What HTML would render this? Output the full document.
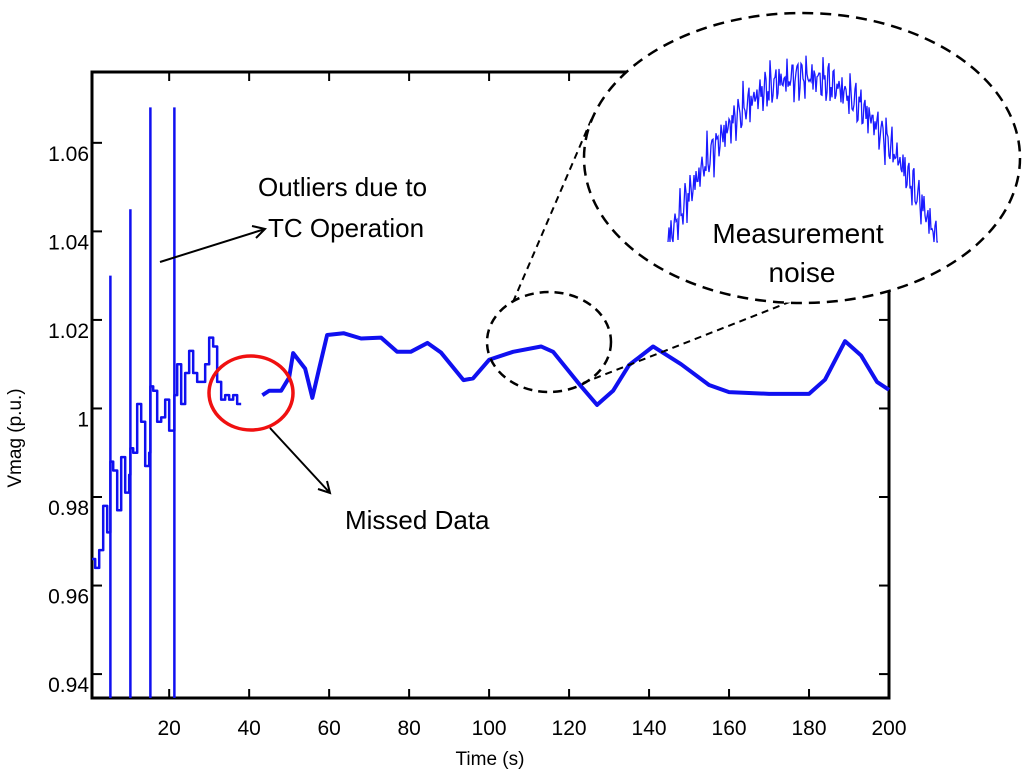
<!DOCTYPE html>
<html><head><meta charset="utf-8"><style>
body{margin:0;background:#fff}
svg{display:block;font-family:"Liberation Sans",sans-serif}
</style></head><body>
<svg id="chart" width="1024" height="777" viewBox="0 0 1024 777" xmlns="http://www.w3.org/2000/svg">
<g id="plot"></g>
</svg>
<script>
const xTicks=[20,40,60,80,100,120,140,160,180,200];
const yTicks=[0.94,0.96,0.98,1.00,1.02,1.04,1.06];
const yTickLabels=["0.94","0.96","0.98","1","1.02","1.04","1.06"];
const seg1T=[0.7,1.5,2.5,3.5,4.5,5.3,6,7,8,9,10,10.3,11,12,13,14,15,15.3,16,17,18,19,20,21.3,22,23,24,25,26,27,28,29,30,31,32,33,34,35,36,37,38];
const seg1V=[0.966,0.964,0.968,0.978,0.972,0.988,0.986,0.977,0.989,0.981,0.985,0.991,0.990,1.001,0.997,0.987,0.990,1.005,1.004,0.997,0.998,1.002,0.995,1.003,1.010,1.001,1.008,1.013,1.008,1.006,1.006,1.010,1.016,1.014,1.006,1.002,1.003,1.002,1.003,1.001,1.001];
const seg2T=[43.3,45,48,50,51,54,55.8,57.5,59.5,63.6,68,73,77,80.4,84.6,88,93.6,96,100,106,113,116,123,127,131,135,141,148,155,160,170,180,184,189,193,197,200];
const seg2V=[1.003,1.004,1.004,1.007,1.0125,1.009,1.0024,1.009,1.0166,1.017,1.0158,1.016,1.0128,1.0128,1.0148,1.0126,1.0064,1.0068,1.011,1.0128,1.014,1.0128,1.005,1.0008,1.004,1.0098,1.014,1.010,1.0053,1.0037,1.0033,1.0033,1.0065,1.0152,1.012,1.006,1.0042];
const spikeT=[5.3,10.3,15.3,21.3];
const spikeTop=[1.03,1.045,1.068,1.068];
const XMIN=0.7,XMAX=200,YMIN=0.9346,YMAX=1.076;
const L=92,R=889,T=72,B=698;
const sx=t=>L+(t-XMIN)/(XMAX-XMIN)*(R-L);
const sy=v=>B-(v-YMIN)/(YMAX-YMIN)*(B-T);
const NS="http://www.w3.org/2000/svg";
const g=document.getElementById('plot');
function mk(tag,attrs,parent){const e=document.createElementNS(NS,tag);for(const k in attrs)e.setAttribute(k,attrs[k]);(parent||g).appendChild(e);return e;}
const ax=mk('rect',{x:L,y:T,width:R-L,height:B-T,fill:'none',stroke:'#000','stroke-width':3});


xTicks.forEach(t=>{
  const x=sx(t);
  const tk=mk('line',{x1:x,x2:x,y1:B,y2:B-9,stroke:'#000','stroke-width':2});
  
  
  const tk2=mk('line',{x1:x,x2:x,y1:T,y2:T+9,stroke:'#000','stroke-width':2});
  
  
  const lb=mk('text',{x:x,y:B+37,'text-anchor':'middle','font-size':21});
  lb.textContent=t;
  
  
});
yTicks.forEach((v,i)=>{
  const y=sy(v);
  const tk=mk('line',{x1:L,x2:L+10,y1:y,y2:y,stroke:'#000','stroke-width':2});
  
  
  const tk2=mk('line',{x1:R,x2:R-10,y1:y,y2:y,stroke:'#000','stroke-width':2});
  
  
  const lb=mk('text',{x:L-3,y:y+18,'text-anchor':'end','font-size':21});
  lb.textContent=yTickLabels[i];
  
  
});
function stepPath(ts,vs){let d='';ts.forEach((t,i)=>{const x=sx(t),y=sy(vs[i]);if(i===0)d+='M'+x+','+y;else d+='H'+x+'V'+y;});return d;}
function linePath(ts,vs){return ts.map((t,i)=>(i?'L':'M')+sx(t)+','+sy(vs[i])).join('');}
const s1=mk('path',{d:stepPath(seg1T,seg1V),fill:'none',stroke:'#1010f0','stroke-width':2.5,'stroke-linejoin':'round'});


const s2=mk('path',{d:linePath(seg2T,seg2V),fill:'none',stroke:'#1010f0','stroke-width':4,'stroke-linejoin':'round'});


spikeT.forEach((t,i)=>{
  const sp=mk('line',{x1:sx(t),x2:sx(t),y1:B,y2:sy(spikeTop[i]),stroke:'#1010f0','stroke-width':2.5});
  
  
});
const an=mk('g',{});


const re=mk('ellipse',{cx:251,cy:393,rx:42,ry:37,fill:'none',stroke:'#f01010','stroke-width':3.5},an);


const a1=mk('path',{d:'M270,428 L330,493 M318,489 L330,493 L327,481',fill:'none',stroke:'#000','stroke-width':2},an);


const t1=mk('text',{x:345,y:529,'font-size':26},an);t1.textContent='Missed Data';


const a2=mk('path',{d:'M160,262 L265,229 M252,226 L265,229 L256,238',fill:'none',stroke:'#000','stroke-width':2},an);


const t2=mk('text',{x:258,y:196,'font-size':26},an);t2.textContent='Outliers due to';


const t3=mk('text',{x:268,y:237,'font-size':26},an);t3.textContent='TC Operation';


const se=mk('ellipse',{cx:549,cy:342,rx:62,ry:50,fill:'none',stroke:'#000','stroke-width':2.5,'stroke-dasharray':'9 6'},an);


const dl=mk('path',{d:'M513,302 L592,118 M583,383 L815,292',fill:'none',stroke:'#000','stroke-width':2,'stroke-dasharray':'7 5'},an);


const be=mk('ellipse',{cx:802,cy:158,rx:218,ry:145,fill:'#fff',stroke:'#000','stroke-width':2.5,'stroke-dasharray':'11 7'},an);


let d='';
for(let i=0;i<=270;i++){
  const x=668+i;const u=(i-135)/135;
  const base=242-165*(1-u*u);
  const n=18*Math.sin(i*2.7)*Math.cos(i*1.3)+9*Math.sin(i*5.1)+6*Math.cos(i*3.3);
  const y=Math.min(242,base+n);
  d+=(i?'L':'M')+x+','+y.toFixed(1);
}
const ins=mk('path',{d:d,fill:'none',stroke:'#1a1aff','stroke-width':1.3},an);


const t4=mk('text',{x:798,y:243,'font-size':28,'text-anchor':'middle'},an);t4.textContent='Measurement';


const t5=mk('text',{x:802,y:282,'font-size':28,'text-anchor':'middle'},an);t5.textContent='noise';


const xl=mk('text',{x:490,y:765,'font-size':19,'text-anchor':'middle'});xl.textContent='Time (s)';


const yl=mk('text',{x:0,y:0,'font-size':19,'text-anchor':'middle',transform:'translate(21,438) rotate(-90)'});yl.textContent='Vmag (p.u.)';


</script>
</body></html>
